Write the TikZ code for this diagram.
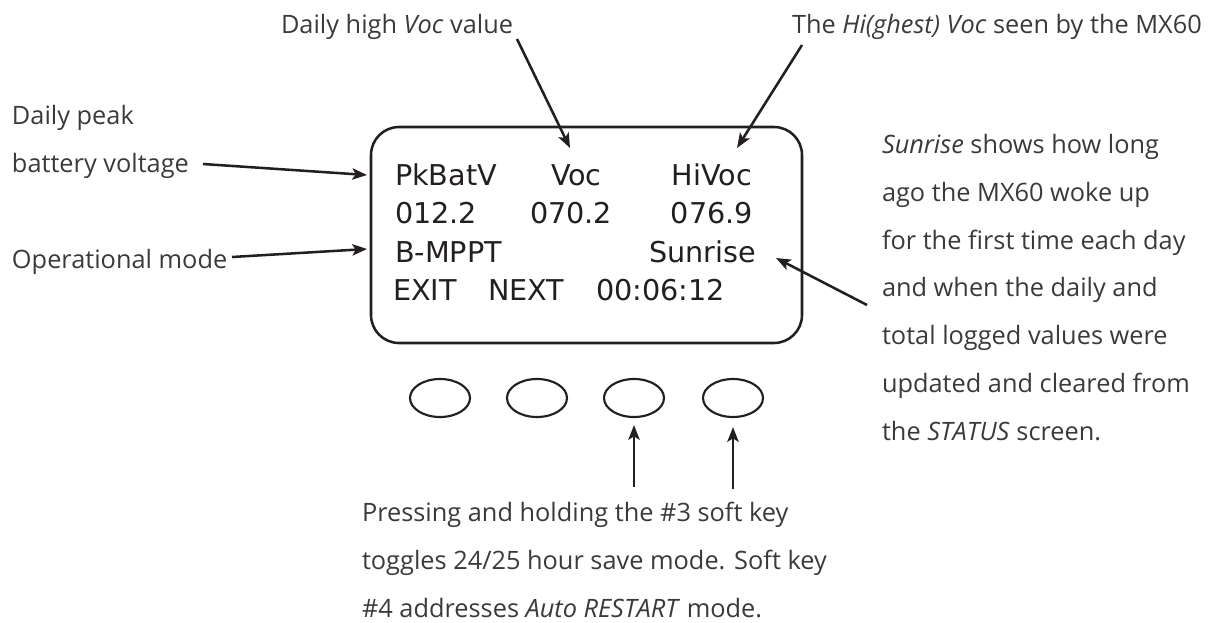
\documentclass[tikz,border=0pt]{standalone}
\usepackage{fontspec}
\setmainfont{Open Sans}
\newfontfamily\lcdfont{DejaVu Sans}
\usetikzlibrary{arrows.meta,shapes.geometric}
\definecolor{ink}{HTML}{231F20}
\definecolor{txt}{HTML}{3A3A3A}
\begin{document}
\begin{tikzpicture}[x=0.75pt,y=-0.75pt,
  note/.style={font=\fontsize{19}{35.8}\selectfont, text=txt, inner sep=0pt, outer sep=0pt, align=left},
  lcd/.style={font=\lcdfont\fontsize{21.5}{21.5}\selectfont, text=ink, inner sep=0pt, outer sep=0pt},
  arr/.style={-{Stealth[length=11pt,width=8.5pt,inset=2.5pt]}, line width=1.9pt, draw=ink},
  softkey/.style={ellipse, draw=ink, line width=1.6pt, minimum width=45pt, minimum height=28.5pt, inner sep=0pt}]
\useasboundingbox (0,0) rectangle (1211,622);
% screen
\node[draw=ink, line width=1.9pt, rounded corners=21pt, minimum width=323.25pt, minimum height=162pt, inner sep=0pt] (screen) at (586.5,235) {};
\node[lcd, anchor=base west] (pk) at (395,185) {PkBatV};
\node[lcd, anchor=base west] (voc) at (551,185) {Voc};
\node[lcd, anchor=base east] (hivoc) at (752,185) {HiVoc};
\node[lcd, anchor=base west] (v1) at (395,223) {012.2};
\node[lcd, anchor=base west] (v2) at (530,223) {070.2};
\node[lcd, anchor=base east] (v3) at (753,223) {076.9};
\node[lcd, anchor=base west] (mode) at (395,262) {B-MPPT};
\node[lcd, anchor=base east] (sunrise) at (756,262) {Sunrise};
\node[lcd, anchor=base west] (exit) at (393,300) {EXIT};
\node[lcd, anchor=base west] (next) at (488,300) {NEXT};
\node[lcd, anchor=base east] (time) at (725,300) {00:06:12};
% soft keys
\node[softkey] (k1) at (440,398) {};
\node[softkey] (k2) at (537,398) {};
\node[softkey] (k3) at (634,398) {};
\node[softkey] (k4) at (733,398) {};
% notes (multi-line nodes are anchored at the baseline of their last line)
\node[note, anchor=base west] (nvoc) at (281,33) {Daily high \textit{Voc} value};
\node[note, anchor=base west] (nhivoc) at (792,33) {The \textit{Hi(ghest) Voc} seen by the MX60};
\node[note, anchor=base west] (npeak) at (12,172) {Daily peak\\battery voltage};
\node[note, anchor=base west] (nmode) at (12,268) {Operational mode};
\node[note, anchor=base west] (nsun) at (882,440) {\textit{Sunrise} shows how long\\ago the MX60 woke up\\for the first time each day\\and when the daily and\\total logged values were\\updated and cleared from\\the \textit{STATUS} screen.};
\node[note, anchor=base west] (nkeys) at (362,617) {Pressing and holding the \#3 soft key\\toggles 24/25 hour save mode. Soft key\\\#4 addresses \textit{Auto RESTART} mode.};
% connector ends
\coordinate (a1) at (517,39);  \coordinate (b1) at (570,148);
\coordinate (a2) at (802,45);  \coordinate (b2) at (737,148);
\coordinate (a3) at (203,164); \coordinate (b3) at (367,175);
\coordinate (a4) at (232,257); \coordinate (b4) at (367,249);
\coordinate (a5) at (867,305); \coordinate (b5) at (776,258);
\coordinate (a6) at (634,487); \coordinate (b6) at ([yshift=-5.25pt]k3.south);
\coordinate (a7) at (733,489); \coordinate (b7) at ([yshift=-6.75pt]k4.south);
\draw[arr] (a1) -- (b1);
\draw[arr] (a2) -- (b2);
\draw[arr] (a3) -- (b3);
\draw[arr] (a4) -- (b4);
\draw[arr] (a5) -- (b5);
\draw[arr] (a6) -- (b6);
\draw[arr] (a7) -- (b7);
\end{tikzpicture}
\end{document}
